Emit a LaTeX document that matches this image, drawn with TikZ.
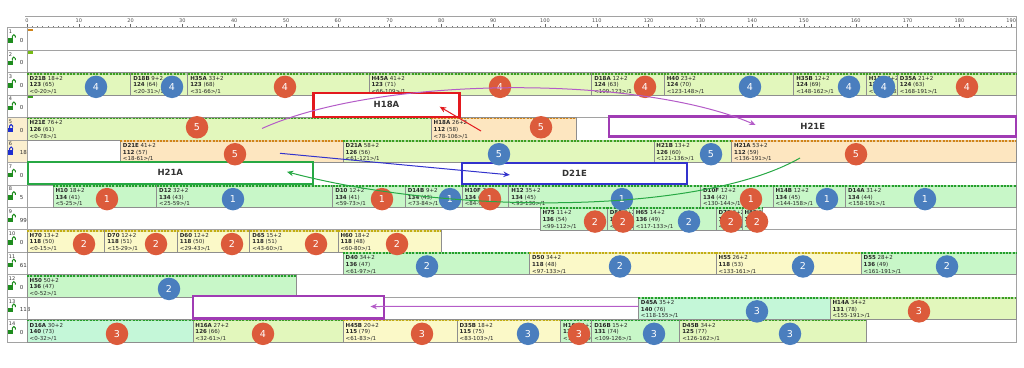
\documentclass[tikz,border=0pt]{standalone}
\usepackage{fontspec}
\setmainfont{DejaVu Sans}
\usetikzlibrary{arrows.meta, positioning, calc}

\definecolor{fillLime}{HTML}{E2F7BC}
\definecolor{fillMint}{HTML}{C8F7C8}
\definecolor{fillAqua}{HTML}{C4F7D8}
\definecolor{fillCream}{HTML}{FBF9C8}
\definecolor{fillPeach}{HTML}{FDE6C0}
\definecolor{dashLime}{HTML}{3C9E1E}
\definecolor{dashMint}{HTML}{22A02A}
\definecolor{dashAqua}{HTML}{22A02A}
\definecolor{dashCream}{HTML}{C2AE12}
\definecolor{dashPeach}{HTML}{D08418}
\definecolor{badgeRed}{HTML}{DC5B3B}
\definecolor{badgeBlue}{HTML}{4A7EBE}
\definecolor{gridGray}{HTML}{A2A2A2}
\definecolor{barLine}{HTML}{8E8E8E}
\definecolor{markRed}{HTML}{E3191E}
\definecolor{markPurple}{HTML}{A03CB4}
\definecolor{arcPurple}{HTML}{B45CC8}
\definecolor{markGreen}{HTML}{27A844}
\definecolor{markBlue}{HTML}{3333CC}
\definecolor{lockGreen}{HTML}{1E8C1E}
\definecolor{lockBlue}{HTML}{1E2ED0}
\definecolor{headTan}{HTML}{FBEFCF}

\begin{document}
\begin{tikzpicture}[
		x=1pt, y=-1pt,
		bar/.style={draw=barLine, line width=0.5pt, inner sep=0pt, outer sep=0pt, minimum height=22.45pt, anchor=north west},
		bartext/.style={font=\fontsize{5.5}{6.7}\selectfont, text=black!85, align=left, inner sep=0pt, anchor=north west},
		badge/.style={circle, minimum size=22.5pt, inner sep=0pt, text=white, font=\fontsize{9.5}{10}\selectfont},
		hlbox/.style={draw, line width=2.3pt, fill=white, inner sep=0pt, font=\bfseries\fontsize{8.5}{9}\selectfont, text=black!80},
		link/.style={-{Stealth[length=6.5pt, width=5.5pt]}, line width=1pt},
		gridline/.style={draw=gridGray, line width=0.7pt},
		tick/.style={font=\fontsize{5}{6}\selectfont, text=black!70, inner sep=0pt},
		rowno/.style={font=\fontsize{5}{5.5}\selectfont, text=black!80, inner sep=0pt, anchor=north west},
		rowval/.style={font=\fontsize{5.5}{6}\selectfont, text=black!80, inner sep=0pt, anchor=west}
		]
		\useasboundingbox (0,0) rectangle (1024,367);
		
		% Ruler on top
		\draw[gridGray, line width=0.7pt] (25,16) -- (1016.5,16) -- (1016.5,342);
		\foreach \t in {0,...,190}
		\draw[black!55, line width=0.3pt] ({27+5.18*\t},27.7) -- ++(0,-1.6);
		\foreach \t in {0,10,...,190} {
			\draw[black!60, line width=0.4pt] ({27+5.18*\t},27.7) -- ++(0,-4);
			\node[tick] at ({27+5.18*\t},20.5) {\t};
		}
		
		% Row headers (number, lock, offset); shackle at 12.3 = open, 9.6 = shut
		\foreach \row/\val/\lk/\bg/\sx in {1/0/lockGreen/white/12.3, 2/0/lockGreen/white/12.3, 3/0/lockGreen/white/12.3,
			4/0/lockGreen/white/12.3, 5/0/lockBlue/headTan/9.6, 6/18/lockBlue/headTan/9.6, 7/0/lockGreen/white/12.3,
			8/5/lockGreen/white/12.3, 9/99/lockGreen/white/12.3, 10/0/lockGreen/white/12.3, 11/61/lockGreen/white/12.3,
			12/0/lockGreen/white/12.3, 13/118/lockGreen/white/12.3, 14/0/lockGreen/white/12.3} {
			\fill[\bg] (7,{5.25+22.45*\row}) rectangle (27,{5.25+22.45*(\row+1)});
			\node[rowno] at (8.8,{5.25+22.45*\row+2}) {\row};
			\fill[\lk] (8.3,{5.25+22.45*\row+10.5}) rectangle ++(5,4.4);
			\draw[\lk, line width=1pt] (\sx,{5.25+22.45*\row+10.5}) -- ++(0,-2) arc (180:360:1.55) -- ++(0,1.5);
			\node[rowval] at (19.6,{5.25+22.45*\row+12.8}) {\val};
		}
		
		% Row lines
		\foreach \row in {1,...,15}
		\draw[gridline] (7,{5.25+22.45*\row}) -- (1016.5,{5.25+22.45*\row});
		\draw[gridline] (7,27.7) -- (7,342) (27,27.7) -- (27,342);
		
		% Start markers of empty rows
		\fill[dashPeach] (28,29) rectangle (32.5,31.2);
		\fill[dashLime!70!yellow] (28,51.4) rectangle (32.5,53.6);
		\fill[dashLime] (28,96.2) rectangle (32.5,98.4);
		
		% Bars: row/start/end/name/duration/load/share/kind
		\foreach \row/\ts/\te/\name/\dur/\load/\pct/\kind in {
			3/0/20/D21B/18+2/123/65/Lime, 3/20/31/D18B/9+2/124/64/Lime, 3/31/66/H35A/33+2/123/68/Lime,
			3/66/109/H45A/41+2/123/71/Lime, 3/109/123/D18A/12+2/124/63/Lime, 3/123/148/H40/23+2/124/70/Lime,
			3/148/162/H35B/12+2/124/69/Lime, 3/162/168/H18B/4+2/124/62/Lime, 3/168/191/D35A/21+2/124/63/Lime,
			5/0/78/H21E/76+2/126/61/Lime, 5/78/106/H18A/26+2/112/58/Peach,
			6/18/61/D21E/41+2/112/57/Peach, 6/61/121/D21A/58+2/126/56/Lime,
			6/121/136/H21B/13+2/126/60/Lime, 6/136/191/H21A/53+2/112/59/Peach,
			8/5/25/H10/18+2/134/41/Mint, 8/25/59/D12/32+2/134/43/Mint, 8/59/73/D10/12+2/134/41/Mint,
			8/73/84/D14B/9+2/134/43/Mint, 8/84/93/H10F/7+2/134/42/Mint, 8/93/130/H12/35+2/134/45/Mint,
			8/130/144/D10F/12+2/134/42/Mint, 8/144/158/H14B/12+2/134/45/Mint, 8/158/191/D14A/31+2/134/44/Mint,
			9/99/112/H75/11+2/136/54/Mint, 9/112/117/D80/3+2/136/52/Mint, 9/117/133/H65/14+2/136/49/Mint,
			9/133/138/D75/3+2/136/53/Mint, 9/138/142/H80/2+2/136/50/Mint,
			10/0/15/H70/13+2/118/50/Cream, 10/15/29/D70/12+2/118/51/Cream, 10/29/43/D60/12+2/118/50/Cream,
			10/43/60/D65/15+2/118/51/Cream, 10/60/80/H60/18+2/118/48/Cream,
			11/61/97/D40/34+2/136/47/Mint, 11/97/133/D50/34+2/118/48/Cream,
			11/133/161/H55/26+2/118/53/Cream, 11/161/191/D55/28+2/136/49/Mint,
			12/0/52/H50/50+2/136/47/Mint,
			13/118/155/D45A/35+2/140/76/Aqua, 13/155/191/H14A/34+2/131/78/Lime,
			14/0/32/D16A/30+2/140/73/Aqua, 14/32/61/H16A/27+2/126/66/Lime, 14/61/83/H45B/20+2/115/79/Cream,
			14/83/103/D35B/18+2/115/75/Cream, 14/103/109/H16B/4+2/131/72/Mint,
			14/109/126/D16B/15+2/131/74/Mint, 14/126/162/D45B/34+2/125/77/Lime} {
			\pgfmathsetmacro{\w}{5.18*(\te-\ts)}
			\node[bar, fill=fill\kind, minimum width=\w pt] (bar \name) at ({27+5.18*\ts},{5.25+22.45*\row}) {};
			\begin{scope}
				\clip (bar \name.north west) rectangle (bar \name.south east);
				\node[bartext] at ([shift={(2.5,3.2)}]bar \name.north west)
				{\textbf{\name} \dur\\\textbf{\load} (\pct)\\<\ts-\te>/1};
			\end{scope}
			\draw[line width=1.8pt, draw=dash\kind!40] ([shift={(0,1)}]bar \name.north west) -- ([shift={(0,1)}]bar \name.north east);
			\draw[line width=1.8pt, draw=dash\kind, dash pattern=on 2pt off 1.3pt] ([shift={(0,1)}]bar \name.north west) -- ([shift={(0,1)}]bar \name.north east);
		}
		
		% Highlight boxes
		\node[hlbox, draw=markRed, minimum width=146pt, minimum height=24pt] (box H18A) at (386.5,104.7) {H18A};
		\node[hlbox, draw=markPurple, minimum width=407pt, minimum height=20pt] (box H21E) at (812.8,126.5) {H21E};
		\node[hlbox, draw=markGreen, minimum width=285pt, minimum height=22.3pt] (box H21A) at (170.3,172.8) {H21A};
		\node[hlbox, draw=markBlue, minimum width=225pt, minimum height=21.5pt] (box D21E) at (574.5,173.4) {D21E};
		\node[hlbox, draw=markPurple, minimum width=191.6pt, minimum height=22.3pt] (box gap) at (288.5,307.2) {};
		
		% Numbered badges: x/row/colour/number
		\foreach \x/\row/\col/\num [count=\i] in {
			96/3/Blue/4, 172/3/Blue/4, 285/3/Red/4, 500/3/Red/4, 645/3/Red/4, 750/3/Blue/4,
			849/3/Blue/4, 884/3/Blue/4, 967/3/Red/4,
			197/4.8/Red/5, 541/4.8/Red/5,
			235/6/Red/5, 499/6/Blue/5, 711/6/Blue/5, 856/6/Red/5,
			107/8/Red/1, 233/8/Blue/1, 382/8/Red/1, 450/8/Blue/1, 490/8/Red/1, 622/8/Blue/1,
			751/8/Red/1, 827/8/Blue/1, 925/8/Blue/1,
			595/9/Red/2, 623/9/Red/2, 689/9/Blue/2, 731/9/Red/2, 757/9/Red/2,
			84/10/Red/2, 156/10/Red/2, 232/10/Red/2, 316/10/Red/2, 397/10/Red/2,
			427/11/Blue/2, 620/11/Blue/2, 803/11/Blue/2, 947/11/Blue/2,
			169/12/Blue/2,
			757/13/Blue/3, 919/13/Red/3,
			117/14/Red/3, 263/14/Red/4, 422/14/Red/3, 528/14/Blue/3, 579/14/Red/3, 654/14/Blue/3, 790/14/Blue/3} {
			\node[badge, fill=badge\col] (badge \i) at (\x,{19.5+22.45*\row}) {\num};
		}
		
		% Moves between rows
		\coordinate (arc start) at (262,128.5);
		\coordinate (red start) at (481,131);
		\coordinate (blue start) at (280,153.3);
		\coordinate (green start) at (800,158);
		\draw[link, arcPurple] (arc start) .. controls (380,75) and (640,75) .. ($(box H21E.west)+(147.5,-1.5)$);
		\draw[link, markRed] (red start) -- ($(box H18A.east)+(-21,2)$);
		\draw[link, markBlue] (blue start) -- ($(box D21E.west)+(49,1.5)$);
		\draw[link, markGreen] (green start) .. controls (700,215) and (450,215) .. ($(box H21A.east)+(-27,-1)$);
		\draw[link, arcPurple] ([shift={(0,-2)}]bar D45A.west) -- ($(box gap.east)+(-15,-0.7)$);
		
	\end{tikzpicture}
\end{document}
